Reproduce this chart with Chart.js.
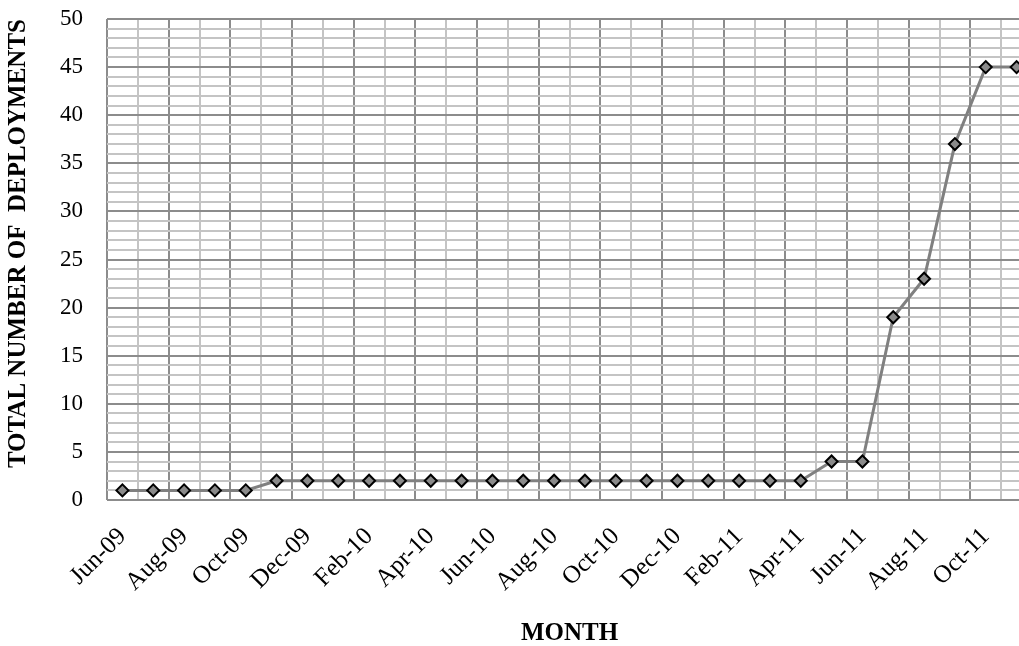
<!DOCTYPE html>
<html>
<head>
<meta charset="utf-8">
<script src="https://cdn.jsdelivr.net/npm/chart.js@4/dist/chart.umd.min.js"></script>
<style>
  html, body { margin: 0; padding: 0; background: #fff; overflow: hidden; }
  #wrap { width: 1040px; height: 646px; }
</style>
</head>
<body>
<div id="wrap"><canvas id="c" width="1040" height="646"></canvas></div>
<script>
const months = ["Jun-09","Jul-09","Aug-09","Sep-09","Oct-09","Nov-09","Dec-09",
  "Jan-10","Feb-10","Mar-10","Apr-10","May-10","Jun-10","Jul-10","Aug-10","Sep-10","Oct-10","Nov-10","Dec-10",
  "Jan-11","Feb-11","Mar-11","Apr-11","May-11","Jun-11","Jul-11","Aug-11","Sep-11","Oct-11","Nov-11"];
const deployments = [1,1,1,1,1,2,2,2,2,2,2,2,2,2,2,2,2,2,2,2,2,2,2,4,4,19,23,37,45,45];
const yMin = 0, yMax = 50, yMajor = 5, yMinor = 1;
const xTitle = "MONTH";
const yTitle = "TOTAL NUMBER OF  DEPLOYMENTS";

const serif = "'Liberation Serif', 'DejaVu Serif', serif";
const DARK = '#8c8c8c', LIGHT = '#c4c4c4';

new Chart(document.getElementById('c'), {
  type: 'line',
  data: {
    labels: months,
    datasets: [{
      data: deployments,
      borderColor: '#808080',
      borderWidth: 3,
      backgroundColor: '#808080',
      pointStyle: 'rectRot',
      pointRadius: 6,
      pointBorderColor: '#000',
      pointBorderWidth: 2,
      pointBackgroundColor: '#8a8a8a',
      tension: 0
    }]
  },
  options: {
    responsive: false,
    animation: false,
    layout: { padding: { left: 0, right: 8, top: 19, bottom: 0 } },
    plugins: { legend: { display: false }, tooltip: { enabled: false } },
    scales: {
      x: {
        type: 'category',
        offset: true,
        grid: {
          offset: true,
          drawTicks: false,
          lineWidth: 2,
          color: (ctx) => (ctx.index % 2 === 0 ? DARK : LIGHT)
        },
        border: { display: false },
        ticks: {
          autoSkip: false,
          maxRotation: 45,
          minRotation: 45,
          padding: 22,
          color: '#000',
          font: { family: serif, size: 25 },
          callback: function(v, i) { return i % 2 === 0 ? this.getLabelForValue(v) : ''; }
        },
        title: {
          display: true,
          text: xTitle,
          color: '#000',
          font: { family: serif, size: 25, weight: 'bold' },
          padding: { top: 4, bottom: -3 }
        },
        afterFit: (s) => { s.height = 146; s.paddingRight = 0; s.paddingLeft = 0; }
      },
      y: {
        min: yMin,
        max: yMax,
        grid: {
          drawTicks: false,
          lineWidth: 2,
          color: (ctx) => (ctx.tick && ctx.tick.value % yMajor === 0 ? DARK : LIGHT)
        },
        border: { display: false },
        ticks: {
          stepSize: yMinor,
          autoSkip: false,
          padding: 24,
          color: '#000',
          font: { family: serif, size: 23 },
          callback: (v) => (v % yMajor === 0 ? v : '')
        },
        title: {
          display: true,
          text: yTitle,
          align: 'end',
          color: '#000',
          font: { family: serif, size: 25, weight: 'bold' },
          padding: { top: 4, bottom: 4 }
        },
        afterFit: (s) => { s.width = 107; s.paddingTop = 0; s.paddingBottom = 0; }
      }
    }
  }
});
</script>
</body>
</html>
